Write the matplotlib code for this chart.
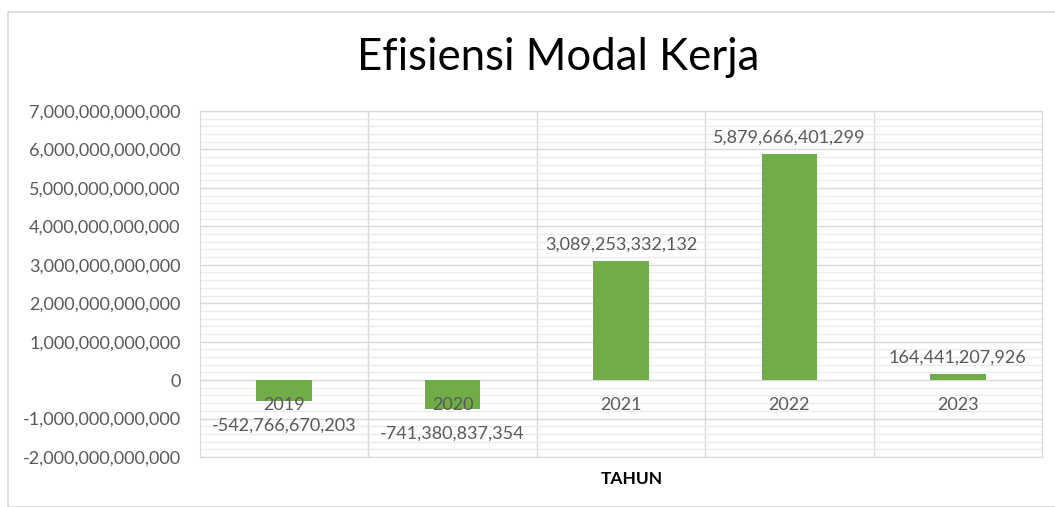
import numpy as np
import matplotlib
matplotlib.use("Agg")
from matplotlib import pyplot as plt
from matplotlib.patches import Rectangle
from matplotlib.ticker import FuncFormatter, MultipleLocator

years = ["2019", "2020", "2021", "2022", "2023"]
values = [-542766670203, -741380837354, 3089253332132, 5879666401299, 164441207926]

bar_color = "#70AD47"
text_color = "#595959"

plt.rcParams["font.family"] = ["Lato", "DejaVu Sans"]


def main():
    fig = plt.figure(figsize=(10.55, 5.07), dpi=100)
    fig.patches.append(Rectangle((8 / 1055, 0), 1.2, (507 - 12) / 507, transform=fig.transFigure,
                                 fill=False, edgecolor="#D9D9D9", linewidth=1.2))
    ax = fig.add_axes([200 / 1055, 50 / 507, 842 / 1055, 346 / 507])

    x = np.arange(len(years))
    ax.bar(x, values, width=0.33, color=bar_color, zorder=3)

    ax.set_xlim(-0.5, len(years) - 0.5)
    ax.set_ylim(-2e12, 7e12)
    ax.yaxis.set_major_locator(MultipleLocator(1e12))
    ax.yaxis.set_minor_locator(MultipleLocator(2e11))
    ax.yaxis.set_major_formatter(FuncFormatter(lambda v, p: "{:,.0f}".format(v)))
    ax.tick_params(axis="y", which="both", length=0, labelsize=13, labelcolor=text_color, pad=14)
    ax.grid(axis="y", which="major", color="#D9D9D9", linewidth=1.0, zorder=0)
    ax.grid(axis="y", which="minor", color="#EBEBEB", linewidth=0.9, zorder=0)
    for b in np.arange(0.5, len(years) - 0.5):
        ax.axvline(b, color="#D9D9D9", linewidth=1.0, zorder=0)
    for s in ax.spines.values():
        s.set_color("#D9D9D9")
    ax.set_xticks([])

    for i, (yr, v) in enumerate(zip(years, values)):
        ax.text(i, -0.66e12, yr, ha="center", va="center", fontsize=13, color=text_color, zorder=4)
        if v >= 0:
            ax.annotate("{:,.0f}".format(v), (i, v), xytext=(0, 6), textcoords="offset points",
                        ha="center", va="bottom", fontsize=13, color=text_color)
        else:
            ax.annotate("{:,.0f}".format(v), (i, v), xytext=(0, -12), textcoords="offset points",
                        ha="center", va="top", fontsize=13, color=text_color)

    fig.text(558 / 1055, 1 - 58 / 507, "Efisiensi Modal Kerja", ha="center", va="center",
             fontsize=31.5, color="black")
    fig.text(632 / 1055, 1 - 479 / 507, "TAHUN", ha="center", va="center",
             fontsize=12.5, fontweight="bold", color="black")

    fig.savefig("out.png", dpi=100)


if __name__ == "__main__":
    main()
